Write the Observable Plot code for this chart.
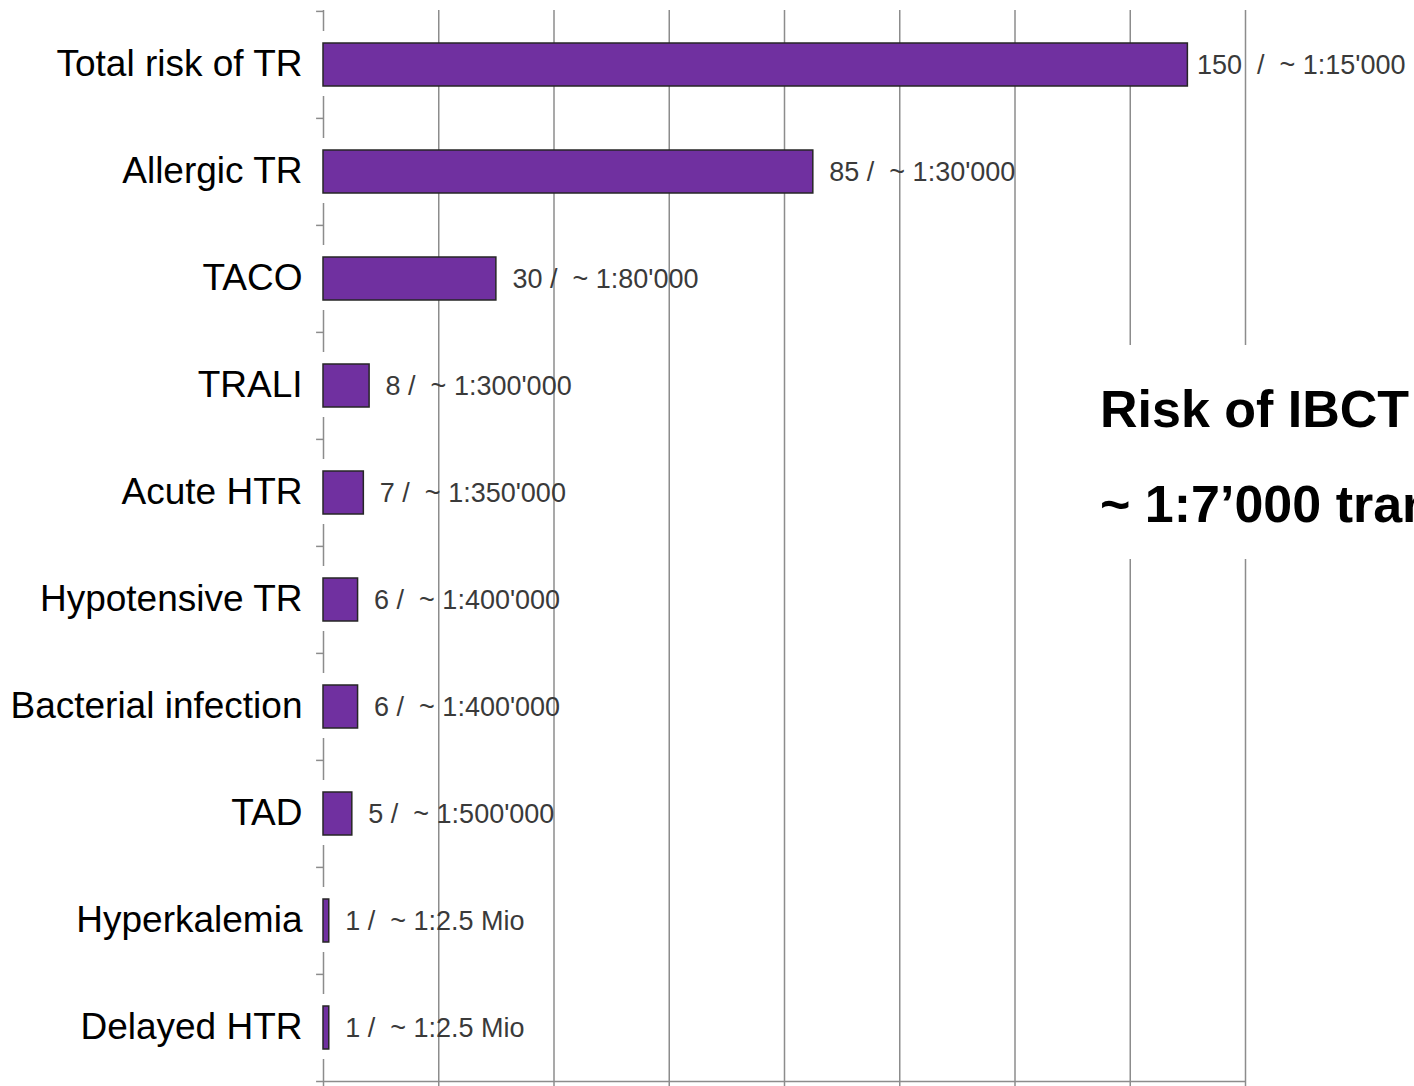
<!DOCTYPE html>
<html>
<head>
<meta charset="utf-8">
<script src="https://cdn.jsdelivr.net/npm/d3@7"></script>
<script src="https://cdn.jsdelivr.net/npm/@observablehq/plot@0.6"></script>
<style>
html, body { margin: 0; padding: 0; background: #fff; overflow: hidden; }
#wrap { position: relative; width: 1414px; height: 1086px; font-family: "Liberation Sans", Arial, sans-serif; }
#wrap svg text { white-space: pre; }
#note {
  position: absolute; left: 1090px; top: 345px; width: 324px; height: 214px;
  background: #fff; overflow: hidden; white-space: nowrap;
  font-family: "Liberation Sans", Arial, sans-serif; font-weight: bold; font-size: 52px;
  line-height: 95px; padding-top: 17px; box-sizing: border-box; padding-left: 10px; color: #000;
}
</style>
</head>
<body>
<div id="wrap"></div>
<script>
const categories = ["Total risk of TR", "Allergic TR", "TACO", "TRALI", "Acute HTR",
  "Hypotensive TR", "Bacterial infection", "TAD", "Hyperkalemia", "Delayed HTR"];
const values = [150, 85, 30, 8, 7, 6, 6, 5, 1, 1];
const valueLabels = ["150  /  ~ 1:15'000", "85 /  ~ 1:30'000", "30 /  ~ 1:80'000",
  "8 /  ~ 1:300'000", "7 /  ~ 1:350'000", "6 /  ~ 1:400'000", "6 /  ~ 1:400'000",
  "5 /  ~ 1:500'000", "1 /  ~ 1:2.5 Mio", "1 /  ~ 1:2.5 Mio"];
const xTicks = [0, 20, 40, 60, 80, 100, 120, 140, 160];
const noteLines = ["Risk of IBCT", "~ 1:7\u2019000 transfusions"];

const data = categories.map((c, i) => ({category: c, value: values[i], label: valueLabels[i]}));

const W = 1414, H = 1086, MT = 10, MB = 4;
const step = (H - MT - MB) / categories.length;
const grid = "#8c8c8c";

const chart = Plot.plot({
  width: W, height: H,
  marginLeft: 323, marginRight: 169, marginTop: MT, marginBottom: MB,
  style: {fontFamily: "'Liberation Sans', Arial, sans-serif", background: "white", overflow: "visible"},
  x: {domain: [0, 160], axis: null},
  y: {domain: categories, padding: 0, axis: null},
  marks: [
    Plot.ruleX(xTicks.filter(t => t > 0), {x: d => d, stroke: grid, strokeWidth: 1.5}),
    Plot.ruleX([0], {x: d => d, stroke: grid, strokeWidth: 1.5}),
    Plot.rect(categories, {y: d => d, x1: -0.4, x2: 0.4, fill: "white", insetTop: 20, insetBottom: 22}),
    Plot.ruleY(categories, {y: d => d, x1: -1.2, x2: 0, dy: -step / 2, stroke: grid, strokeWidth: 1.5}),
    Plot.ruleY([categories[categories.length - 1]], {y: d => d, x1: -1.2, x2: 160, dy: step / 2, stroke: grid, strokeWidth: 1.5}),
    Plot.axisX(xTicks, {anchor: "bottom", tickSize: 6, tickFormat: () => "", stroke: grid, strokeWidth: 1.5, label: null}),
    Plot.axisY({tickSize: 0, tickPadding: 21, fontSize: 37, fill: "#000", label: null, dy: -1}),
    Plot.barX(data, {x: "value", y: "category", fill: "#7030A0", stroke: "#262626", strokeWidth: 1.5, insetTop: 32, insetBottom: 32}),
    Plot.text(data, {filter: (d, i) => i === 0, x: "value", y: "category", text: "label", textAnchor: "start", dx: 9, fontSize: 27, fill: "#3a3a3a"}),
    Plot.text(data, {filter: (d, i) => i > 0, x: "value", y: "category", text: "label", textAnchor: "start", dx: 16, fontSize: 27, fill: "#3a3a3a"})
  ]
});

const wrap = document.getElementById("wrap");
wrap.appendChild(chart);
const note = document.createElement("div");
note.id = "note";
note.innerHTML = noteLines.map(t => `<div>${t}</div>`).join("");
wrap.appendChild(note);
</script>
</body>
</html>
